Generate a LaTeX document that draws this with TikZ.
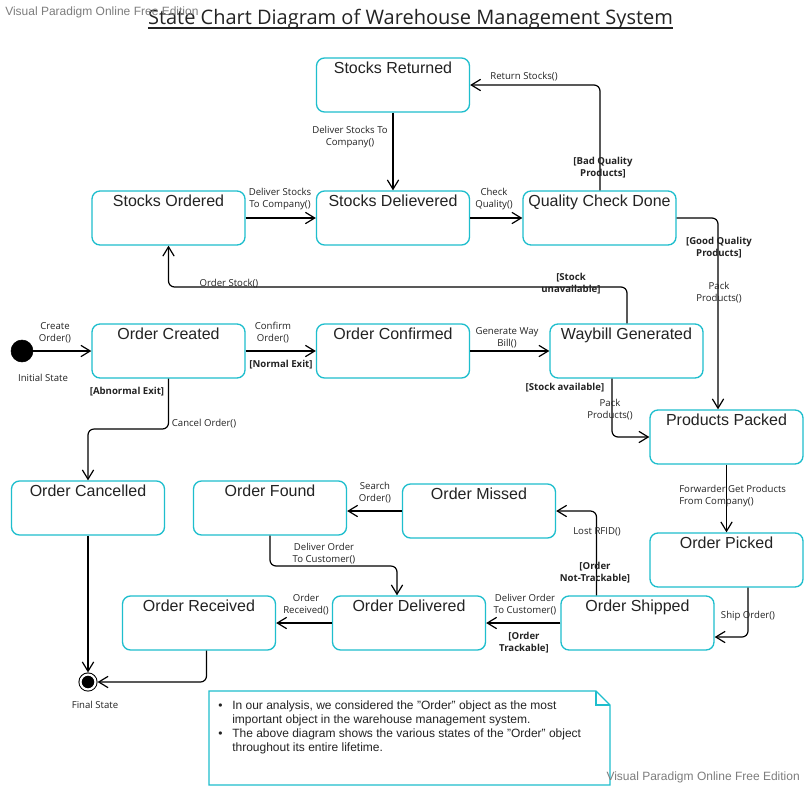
\documentclass[tikz,border=0pt]{standalone}
\usepackage{fontspec}
\setmainfont{Liberation Sans}
\newfontfamily\osans{Open Sans}
\usetikzlibrary{arrows.meta,calc}
\definecolor{boxc}{RGB}{30,190,205}
\definecolor{wmark}{RGB}{125,125,125}
\definecolor{txt}{RGB}{35,35,35}
\tikzset{
  stbox/.style={draw=boxc, line width=1pt, rounded corners=6pt, minimum width=114.75pt, minimum height=40.5pt, fill=white, inner sep=0pt},
  stname/.style={anchor=north, inner sep=0pt, text height=9pt, yshift=-3pt, font=\fontsize{12}{14}\selectfont, text=txt},
  tr/.style={draw=black, line width=0.9pt, -{Straight Barb[length=7pt,width=8.5pt,line width=0.9pt]}, rounded corners=4.5pt},
  lbl/.style={font=\osans\fontsize{7.2}{9}\selectfont, align=center, inner sep=0pt, text=txt},
  grd/.style={lbl, font=\osans\bfseries\fontsize{7.2}{9}\selectfont},
  initst/.style={circle, fill=black, draw=black, minimum size=16.5pt, inner sep=0pt},
  finst/.style={circle, fill=black, draw=black, minimum size=11.2pt, inner sep=0pt, line width=0.75pt, double=white, double distance=1.6pt, outer sep=1.6pt},
  wm/.style={font=\fontsize{9}{10}\selectfont, text=wmark, inner sep=0pt},
  notebox/.style={draw=boxc, line width=1pt, fill=white},
  notetext/.style={font=\fontsize{9}{10.7}\selectfont, inner sep=0pt, text=txt}
}
\newcommand\statebox[3]{\node[stbox,label={[stname]north:#3}] (#1) at (#2) {};}
\begin{document}
\begin{tikzpicture}[x=0.75pt,y=-0.75pt]
\useasboundingbox (0,0) rectangle (805,786);
\fill[white] (0,0) rectangle (805,786);

% title
\node[font=\osans\fontsize{15}{18}\selectfont, anchor=base, inner sep=0pt, text=txt] (ttl) at (410.5,24) {State Chart Diagram of Warehouse Management System};
\draw[line width=0.8pt, txt] ([yshift=-3pt]ttl.base west) -- ([yshift=-3pt]ttl.base east);
\node[wm, anchor=west] (wm1) at (5,12) {Visual Paradigm Online Free Edition};

% states
\statebox{sr}{393,85}{Stocks Returned}
\statebox{so}{168.5,218}{Stocks Ordered}
\statebox{sd}{393,218}{Stocks Delievered}
\statebox{qc}{599.5,218}{Quality Check Done}
\statebox{oc}{168.5,351}{Order Created}
\statebox{ocf}{393,351}{Order Confirmed}
\statebox{wg}{626.5,351}{Waybill Generated}
\statebox{pp}{726.5,437}{Products Packed}
\statebox{op}{726.5,560}{Order Picked}
\statebox{os}{637.5,623}{Order Shipped}
\statebox{odl}{409,623}{Order Delivered}
\statebox{orc}{199,623}{Order Received}
\statebox{ofd}{270,508}{Order Found}
\statebox{om}{479,511}{Order Missed}
\statebox{ocl}{88,508}{Order Cancelled}

\node[initst] (init) at (22,351) {};
\node[finst] (fin) at (88,682) {};

% transitions
\draw[tr] (init) -- (oc);
\draw[tr] (oc) -- (ocf);
\draw[tr] (ocf) -- (wg);
\draw[tr] ([xshift=-10.875pt]wg.south) |- (pp.west);
\coordinate (k5) at (168.5,287);
\draw[tr] ([xshift=0.375pt]wg.north) |- (k5) -- (so.south);
\draw[tr] (so) -- (sd);
\draw[tr] (sr) -- (sd);
\draw[tr] (sd) -- (qc);
\draw[tr] ([xshift=0.375pt]qc.north) |- (sr.east);
\draw[tr] (qc.east) -| ([xshift=-6.375pt]pp.north);
\draw[tr] (pp) -- (op);
\draw[tr] ([xshift=16.125pt]op.south) |- ([yshift=-10.5pt]os.east);
\draw[tr] (os) -- (odl);
\draw[tr] ([xshift=-30.75pt]os.north) |- (om.east);
\draw[tr] (om.west) -- (om.west -| ofd.east);
\coordinate (k16) at (330,566);
\draw[tr] (ofd.south) |- (k16) -| ([xshift=-9pt]odl.north);
\draw[tr] (odl) -- (orc);
\draw[tr] ([xshift=5.625pt]orc.south) |- (fin);
\draw[tr] (ocl) -- (fin);
\coordinate (k20) at (130,429);
\draw[tr] (oc.south) |- (k20) -| (ocl.north);

% labels
\node[lbl] (l1) at (55,333) {Create\\Order()};
\node[lbl] (l2) at (273,333) {Confirm\\Order()};
\node[grd] (l3) at (281,365) {[Normal Exit]};
\node[lbl] (l4) at (507,338) {Generate Way\\Bill()};
\node[grd] (l5) at (565,388) {[Stock available]};
\node[lbl] (l6) at (610,410) {Pack\\Products()};
\node[grd] (l7) at (571,284) {[Stock\\unavailable]};
\node[lbl] (l8) at (229,284) {Order Stock()};
\node[lbl] (l9) at (280,199) {Deliver Stocks\\To Company()};
\node[lbl] (l10) at (350,137) {Deliver Stocks To\\Company()};
\node[lbl] (l11) at (494,199) {Check\\Quality()};
\node[lbl] (l12) at (524,77) {Return Stocks()};
\node[grd] (l13) at (603,168) {[Bad Quality\\Products]};
\node[grd] (l14) at (719,248) {[Good Quality\\Products]};
\node[lbl] (l15) at (719,293) {Pack\\Products()};
\node[lbl, align=left, anchor=west] (l16) at (679,496) {Forwarder Get Products\\From Company()};
\node[lbl] (l17) at (748,616) {Ship Order()};
\node[lbl] (l18) at (375,493) {Search\\Order()};
\node[lbl] (l19) at (597,532) {Lost RFID()};
\node[grd] (l20) at (595,573) {[Order\\Not-Trackable]};
\node[lbl] (l21) at (324,554) {Deliver Order\\To Customer()};
\node[lbl] (l22) at (525,605) {Deliver Order\\To Customer()};
\node[grd] (l23) at (524,643) {[Order\\Trackable]};
\node[lbl] (l24) at (306,605) {Order\\Received()};
\node[grd] (l25) at (127,392) {[Abnormal Exit]};
\node[lbl] (l26) at (204,424) {Cancel Order()};
\node[lbl] (l27) at (43,378) {Initial State};
\node[lbl] (l28) at (95,705) {Final State};

% note
\draw[notebox] (209,691) -- (596,691) -- (610,705) -- (610,785) -- (209,785) -- cycle;
\draw[draw=boxc, line width=1pt] (596,691) -- (596,705) -- (610,705);
\node[notetext, anchor=base west] (note) at (218,709) {\begin{tabular}[t]{@{}l@{}l@{}}
\makebox[10.5pt][l]{\textbullet} & In our analysis, we considered the "Order" object as the most\\
 & important object in the warehouse management system.\\
\makebox[10.5pt][l]{\textbullet} & The above diagram shows the various states of the "Order" object\\
 & throughout its entire lifetime.
\end{tabular}};
\node[wm, anchor=east] (wm2) at (800,777) {Visual Paradigm Online Free Edition};
\end{tikzpicture}
\end{document}
